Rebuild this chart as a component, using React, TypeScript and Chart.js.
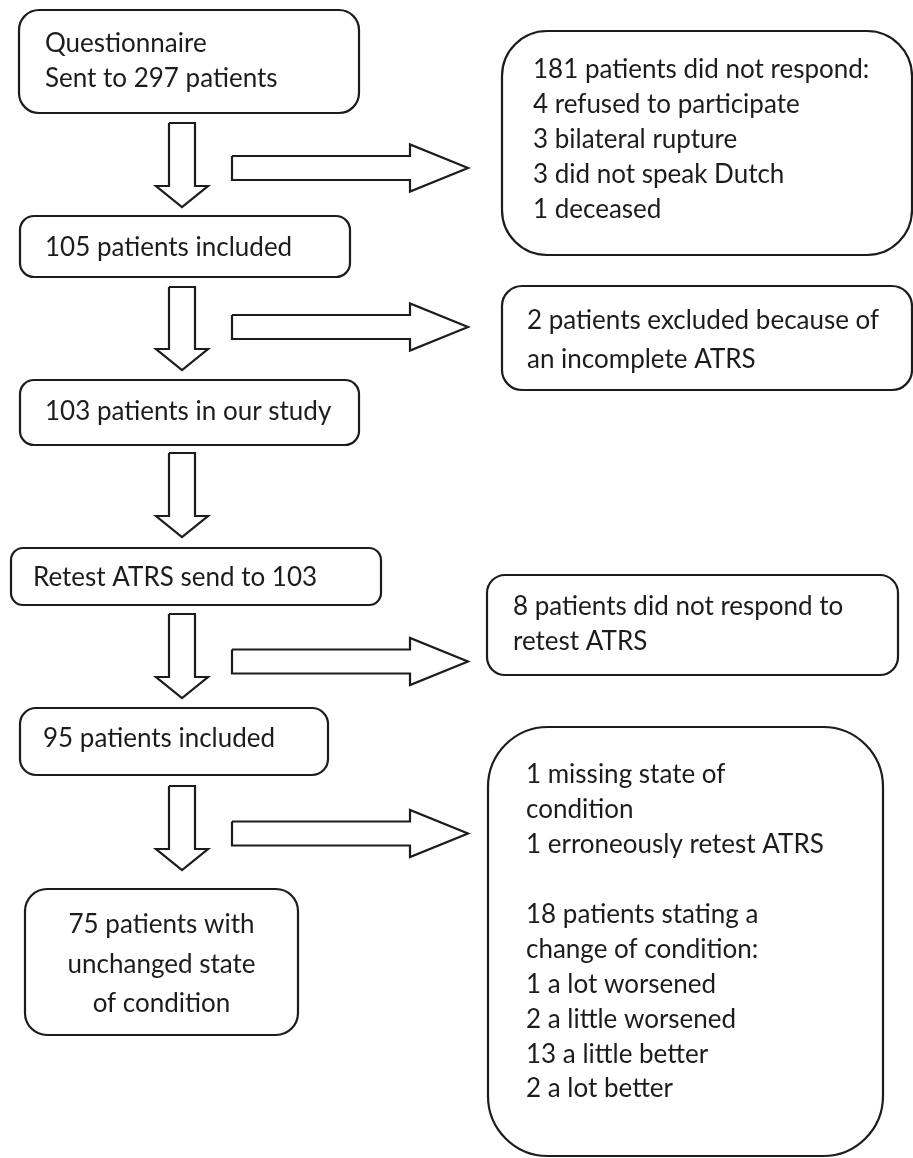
import React, { useEffect, useRef } from "react";
import { Chart, registerables } from "chart.js";

Chart.register(...registerables);

// ---- Flowchart content (text) ----
const mainSteps: string[][] = [
  ["Questionnaire", "Sent to 297 patients"],
  ["105 patients included"],
  ["103 patients in our study"],
  ["Retest ATRS send to 103"],
  ["95 patients included"],
  ["75 patients with", "unchanged state", "of condition"],
];

const sideNotes: string[][] = [
  [
    "181 patients did not respond:",
    "4 refused to participate",
    "3 bilateral rupture",
    "3 did not speak Dutch",
    "1 deceased",
  ],
  ["2 patients excluded because of", "an incomplete ATRS"],
  ["8 patients did not respond to", "retest ATRS"],
  [
    "1 missing state of",
    "condition",
    "1 erroneously retest ATRS",
    "",
    "18 patients stating a",
    "change of condition:",
    "1 a lot worsened",
    "2 a little worsened",
    "13 a little better",
    "2 a lot better",
  ],
];

// ---- Layout (in chart units; x: 0..913, y: 0..1158 top-down) ----
type BoxLayout = {
  x0: number; y0: number; x1: number; y1: number; r: number;
  tx: number; baselines: number[]; align: "left" | "center";
};

const mainLayout: BoxLayout[] = [
  { x0: 19, y0: 10, x1: 359, y1: 113, r: 20, tx: 45, baselines: [52, 87], align: "left" },
  { x0: 20, y0: 216, x1: 350, y1: 277, r: 14, tx: 45, baselines: [256], align: "left" },
  { x0: 20, y0: 380, x1: 359, y1: 445, r: 14, tx: 45, baselines: [420], align: "left" },
  { x0: 11, y0: 548, x1: 381, y1: 605, r: 12, tx: 33, baselines: [586], align: "left" },
  { x0: 20, y0: 708, x1: 328, y1: 775, r: 16, tx: 43, baselines: [747], align: "left" },
  { x0: 25, y0: 889, x1: 298, y1: 1035, r: 22, tx: 161.5, baselines: [933, 973, 1012], align: "center" },
];

const sideLayout: BoxLayout[] = [
  { x0: 502, y0: 31, x1: 912, y1: 255, r: 45, tx: 533, baselines: [78, 113, 148, 183, 218], align: "left" },
  { x0: 502, y0: 286, x1: 912, y1: 390, r: 20, tx: 527, baselines: [329, 368], align: "left" },
  { x0: 487, y0: 575, x1: 898, y1: 675, r: 18, tx: 513, baselines: [615, 650], align: "left" },
  {
    x0: 488, y0: 727, x1: 883, y1: 1156, r: 60, tx: 526,
    baselines: [783, 818, 853, 888, 923, 958, 993, 1028, 1063, 1097], align: "left",
  },
];

// Arrow anchors
const downArrowX = 182;
const downArrowTops = [123, 287, 453, 614, 786];
const downArrowTips = [207, 370, 537, 698, 870];

const rightArrowLeft = 232;
const rightArrowTip = 468;
const rightArrowYs = [168, 327, 661.5, 833.5];

// Styles
const INK = "#1c1c1c";
const FONT_FAMILY = "Lato, 'Open Sans', sans-serif";
const FONT_SIZE = 26;
const DOWN_SHAFT_HALF = 13;
const DOWN_HEAD_HALF = 26;
const DOWN_HEAD_LEN = 21;
const RIGHT_SHAFT_HALF = 12;
const RIGHT_HEAD_HALF = 23.5;
const RIGHT_HEAD_LEN = 58;

function downArrow(cx: number, top: number, tip: number) {
  const hb = tip - DOWN_HEAD_LEN;
  return [
    { x: cx - DOWN_SHAFT_HALF, y: top },
    { x: cx + DOWN_SHAFT_HALF, y: top },
    { x: cx + DOWN_SHAFT_HALF, y: hb },
    { x: cx + DOWN_HEAD_HALF, y: hb },
    { x: cx, y: tip },
    { x: cx - DOWN_HEAD_HALF, y: hb },
    { x: cx - DOWN_SHAFT_HALF, y: hb },
    { x: cx - DOWN_SHAFT_HALF, y: top },
  ];
}

function rightArrow(cy: number, left: number, tip: number) {
  const hx = tip - RIGHT_HEAD_LEN;
  return [
    { x: left, y: cy - RIGHT_SHAFT_HALF },
    { x: hx, y: cy - RIGHT_SHAFT_HALF },
    { x: hx, y: cy - RIGHT_HEAD_HALF },
    { x: tip, y: cy },
    { x: hx, y: cy + RIGHT_HEAD_HALF },
    { x: hx, y: cy + RIGHT_SHAFT_HALF },
    { x: left, y: cy + RIGHT_SHAFT_HALF },
    { x: left, y: cy - RIGHT_SHAFT_HALF },
  ];
}

const boxPlugin = {
  id: "flowBoxes",
  afterDatasetsDraw(chart: any) {
    const { ctx, scales } = chart;
    const xs = scales.x;
    const ys = scales.y;
    const drawBox = (b: BoxLayout, lines: string[]) => {
      const x0 = xs.getPixelForValue(b.x0);
      const x1 = xs.getPixelForValue(b.x1);
      const y0 = ys.getPixelForValue(b.y0);
      const y1 = ys.getPixelForValue(b.y1);
      ctx.save();
      ctx.beginPath();
      ctx.roundRect(x0, y0, x1 - x0, y1 - y0, b.r);
      ctx.fillStyle = "#ffffff";
      ctx.fill();
      ctx.lineWidth = 2.2;
      ctx.strokeStyle = INK;
      ctx.stroke();
      ctx.fillStyle = INK;
      ctx.font = `${FONT_SIZE}px ${FONT_FAMILY}`;
      ctx.textAlign = b.align;
      ctx.textBaseline = "alphabetic";
      lines.forEach((ln, i) => {
        if (!ln) return;
        ctx.fillText(ln, xs.getPixelForValue(b.tx), ys.getPixelForValue(b.baselines[i]));
      });
      ctx.restore();
    };
    mainSteps.forEach((lines, i) => drawBox(mainLayout[i], lines));
    sideNotes.forEach((lines, i) => drawBox(sideLayout[i], lines));
  },
};

export default function App() {
  const ref = useRef<HTMLCanvasElement | null>(null);

  useEffect(() => {
    if (!ref.current) return;
    const arrowStyle = {
      showLine: true,
      borderColor: INK,
      borderWidth: 2.2,
      pointRadius: 0,
      tension: 0,
      fill: false,
      borderJoinStyle: "miter" as const,
    };
    const datasets: any[] = [
      ...downArrowTops.map((t, i) => ({
        label: `down${i}`,
        data: downArrow(downArrowX, t, downArrowTips[i]),
        ...arrowStyle,
      })),
      ...rightArrowYs.map((y, i) => ({
        label: `right${i}`,
        data: rightArrow(y, rightArrowLeft, rightArrowTip),
        ...arrowStyle,
      })),
    ];
    const chart = new Chart(ref.current, {
      type: "scatter",
      data: { datasets },
      options: {
        animation: false,
        responsive: false,
        devicePixelRatio: 1,
        layout: { padding: 0 },
        plugins: { legend: { display: false }, tooltip: { enabled: false } },
        scales: {
          x: { type: "linear", min: 0, max: 913, display: false },
          y: { type: "linear", min: 0, max: 1158, reverse: true, display: false },
        },
      },
      plugins: [boxPlugin],
    });
    let alive = true;
    (document as any).fonts?.load?.(`${FONT_SIZE}px Lato`).then(() => {
      if (alive) chart.draw();
    });
    return () => {
      alive = false;
      chart.destroy();
    };
  }, []);

  return (
    <div style={{ position: "absolute", left: 0, top: 0, width: 913, height: 1158, background: "#fff" }}>
      <canvas ref={ref} width={913} height={1158} style={{ width: 913, height: 1158 }} />
    </div>
  );
}
